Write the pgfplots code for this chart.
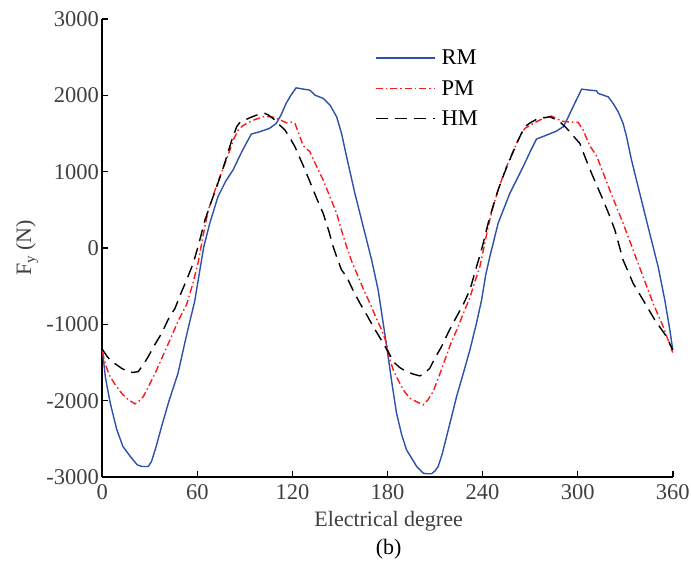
\documentclass[border=0pt]{standalone}
\usepackage{pgfplots}
\pgfplotsset{compat=1.18}
\usepackage{fontspec}
\setmainfont{Liberation Serif}
\definecolor{rmblue}{HTML}{2E50AA}
\definecolor{pmred}{HTML}{FF1A1A}
\definecolor{tickgray}{HTML}{404040}
\pgfplotstableread{
x y
0 -1330
2 -1700
5 -2030
9 -2370
13 -2600
18 -2740
22 -2840
25 -2862
29 -2862
31 -2800
34 -2600
37.4 -2340
42 -2010
47.8 -1640
52 -1250
55.2 -965
58.3 -700
61.5 -300
64 10
67.8 323
73 672
78 880
82.5 1021
88 1260
94 1492
99.3 1523
105.5 1567
109.8 1632
113 1750
116 1894
119 2000
122.3 2098
126 2085
131 2068
134.2 2003
139.4 1960
143.7 1872
147.9 1719
151 1501
154.2 1195
159.4 716
164.7 279
170 -157
174.1 -550
177.3 -986
180.4 -1423
183 -1800
185.7 -2164
189 -2450
192 -2644
198.4 -2862
202.5 -2949
205 -2958
207.8 -2958
210 -2920
212 -2862
214.5 -2700
217.3 -2470
223.6 -1946
228 -1630
232 -1335
236 -1000
239.4 -680
242 -350
244.6 -113
249.8 323
257.2 716
265.6 1064
270 1260
274 1427
280.4 1479
286.7 1532
290.9 1588
293.5 1690
296.1 1806
302.5 2081
307.7 2068
311.9 2059
313 2025
319.3 1980
322.4 1894
325.6 1784
328.7 1632
330.9 1457
334 1152
339.2 716
345.5 192
350.8 -245
355 -680
358.2 -1073
360 -1330
}\rmdata
\pgfplotstableread{
x y
0 -1360
2.5 -1560
4.9 -1684
8.5 -1800
12.2 -1902
16 -1980
20.6 -2042
23 -2010
25.9 -1946
30 -1780
34.3 -1597
38.5 -1400
42.7 -1204
48 -950
53.2 -740
57 -480
60.6 -180
63.5 150
66.9 497
70.5 720
74.2 933
77.5 1110
80.5 1283
83 1430
85.8 1545
88.5 1600
91.1 1632
96 1680
101.6 1719
106.9 1719
111 1690
116.3 1640
119 1650
121.6 1632
124 1500
126.8 1340
131 1261
135 1080
139.4 890
143.5 680
147.9 454
151 230
154.2 17
157.5 -180
161.5 -376
165 -550
168.9 -724
172.5 -900
176.3 -1073
179.4 -1248
181.5 -1466
184 -1620
186.7 -1728
190 -1860
194.1 -1968
198 -2010
202.5 -2055
205.5 -1990
208.8 -1881
212.5 -1680
216.2 -1466
220 -1250
224.6 -1030
228 -850
232 -650
235 -450
238.3 -245
240.8 0
243.5 279
246.5 530
249.8 759
252.5 920
255.1 1064
258.3 1220
261.5 1370
264 1480
266.7 1567
272 1632
278.2 1698
283.5 1728
286.5 1700
289.8 1662
295 1650
300.3 1645
303.5 1545
307.6 1340
311.9 1210
316 990
320.3 759
324.5 540
328.7 323
332 140
335 -26
341.3 -376
347.6 -724
354 -1030
357 -1200
360 -1370
}\pmdata
\pgfplotstableread{
x y
0 -1326
3 -1420
6 -1490
9.1 -1531
12.5 -1580
16.4 -1619
19.5 -1630
22.7 -1619
25.8 -1530
29 -1423
33 -1270
37.5 -1117
41.5 -940
45.9 -790
49.5 -600
53.2 -419
57.4 -200
61 60
64.8 367
68.5 590
72.2 803
75.5 1000
78.5 1195
81.5 1400
84.8 1588
87 1650
90 1676
93.5 1710
97.4 1741
100 1750
102.6 1763
105 1740
109 1676
112 1610
115.3 1545
118.5 1440
121.6 1326
124 1210
126.8 1080
131 870
135.5 640
139.4 454
143 220
145.7 17
148.5 -150
151 -288
154.2 -376
158.4 -560
162.6 -724
167 -880
171 -1030
174.2 -1140
177.3 -1248
181.5 -1400
184.7 -1510
188 -1570
192 -1619
196 -1650
200.4 -1676
203.5 -1640
206.7 -1575
210 -1440
214.1 -1292
218.5 -1100
223.6 -899
227.8 -740
232 -550
236.2 -245
239.4 -20
243.5 323
246.5 540
249.8 759
253 940
256.2 1109
259.3 1260
262.5 1414
264.5 1500
266.7 1588
270 1640
274 1685
278 1705
282.5 1719
285.5 1690
288.8 1653
292 1590
295.1 1523
298 1450
301.4 1370
304.5 1200
308.8 978
312.5 800
316.1 628
319.8 440
323.5 236
328.7 -157
335 -462
341.3 -680
348.7 -942
356.1 -1161
360 -1335
}\hmdata
\begin{document}
\begin{tikzpicture}
\useasboundingbox (-102.3pt,-90pt) rectangle (588.7pt,477pt);
\begin{axis}[
  at={(0pt,0pt)}, anchor=south west,
  scale only axis, width=570.4pt, height=458pt,
  xmin=0, xmax=360, ymin=-3000, ymax=3000,
  axis x line*=bottom, axis y line*=left,
  xtick={0,60,120,180,240,300,360},
  xticklabels={0,60,120,180,240,300,360},
  ytick={-3000,-2000,-1000,0,1000,2000,3000},
  yticklabels={-3000,-2000,-1000,0,1000,2000,3000},
  tick align=inside,
  major tick length=6pt,
  axis line style={line width=1.6pt, black},
  tick style={line width=1.6pt, black},
  every tick label/.append style={font=\fontsize{22.5}{24}\selectfont, text=tickgray},
  xticklabel style={yshift=-4pt},
  xlabel={Electrical degree},
  ylabel={F\raisebox{-0.35ex}{\fontsize{15}{15}\selectfont y} (N)},
  label style={font=\fontsize{22}{24}\selectfont, text=tickgray},
  xlabel style={at={(axis description cs:0.502,-0.096)}, anchor=center},
  ylabel style={at={(axis description cs:-0.132,0.5)}, anchor=center},
  legend style={at={(axis description cs:0.478,0.937)}, anchor=north west,
    draw=none, fill=none, font=\fontsize{22.5}{24}\selectfont, inner sep=0pt,
    row sep=10pt, column sep=4pt},
  legend cell align=left,
  legend image code/.code={\draw[#1] (0pt,0pt) -- (59pt,0pt);},
  clip=false,
]
\addplot[rmblue, line width=1.4pt] table[x=x,y=y] {\rmdata};
\addlegendentry{RM}
\addplot[pmred, line width=1.4pt, dash pattern=on 7pt off 3pt on 1.5pt off 3pt] table[x=x,y=y] {\pmdata};
\addlegendentry{PM}
\addplot[black, line width=1.4pt, dash pattern=on 12pt off 7pt] table[x=x,y=y] {\hmdata};
\addlegendentry{HM}
\node[font=\fontsize{22}{24}\selectfont, anchor=center] at (axis description cs:0.502,-0.157) {(b)};
\end{axis}
\end{tikzpicture}
\end{document}
